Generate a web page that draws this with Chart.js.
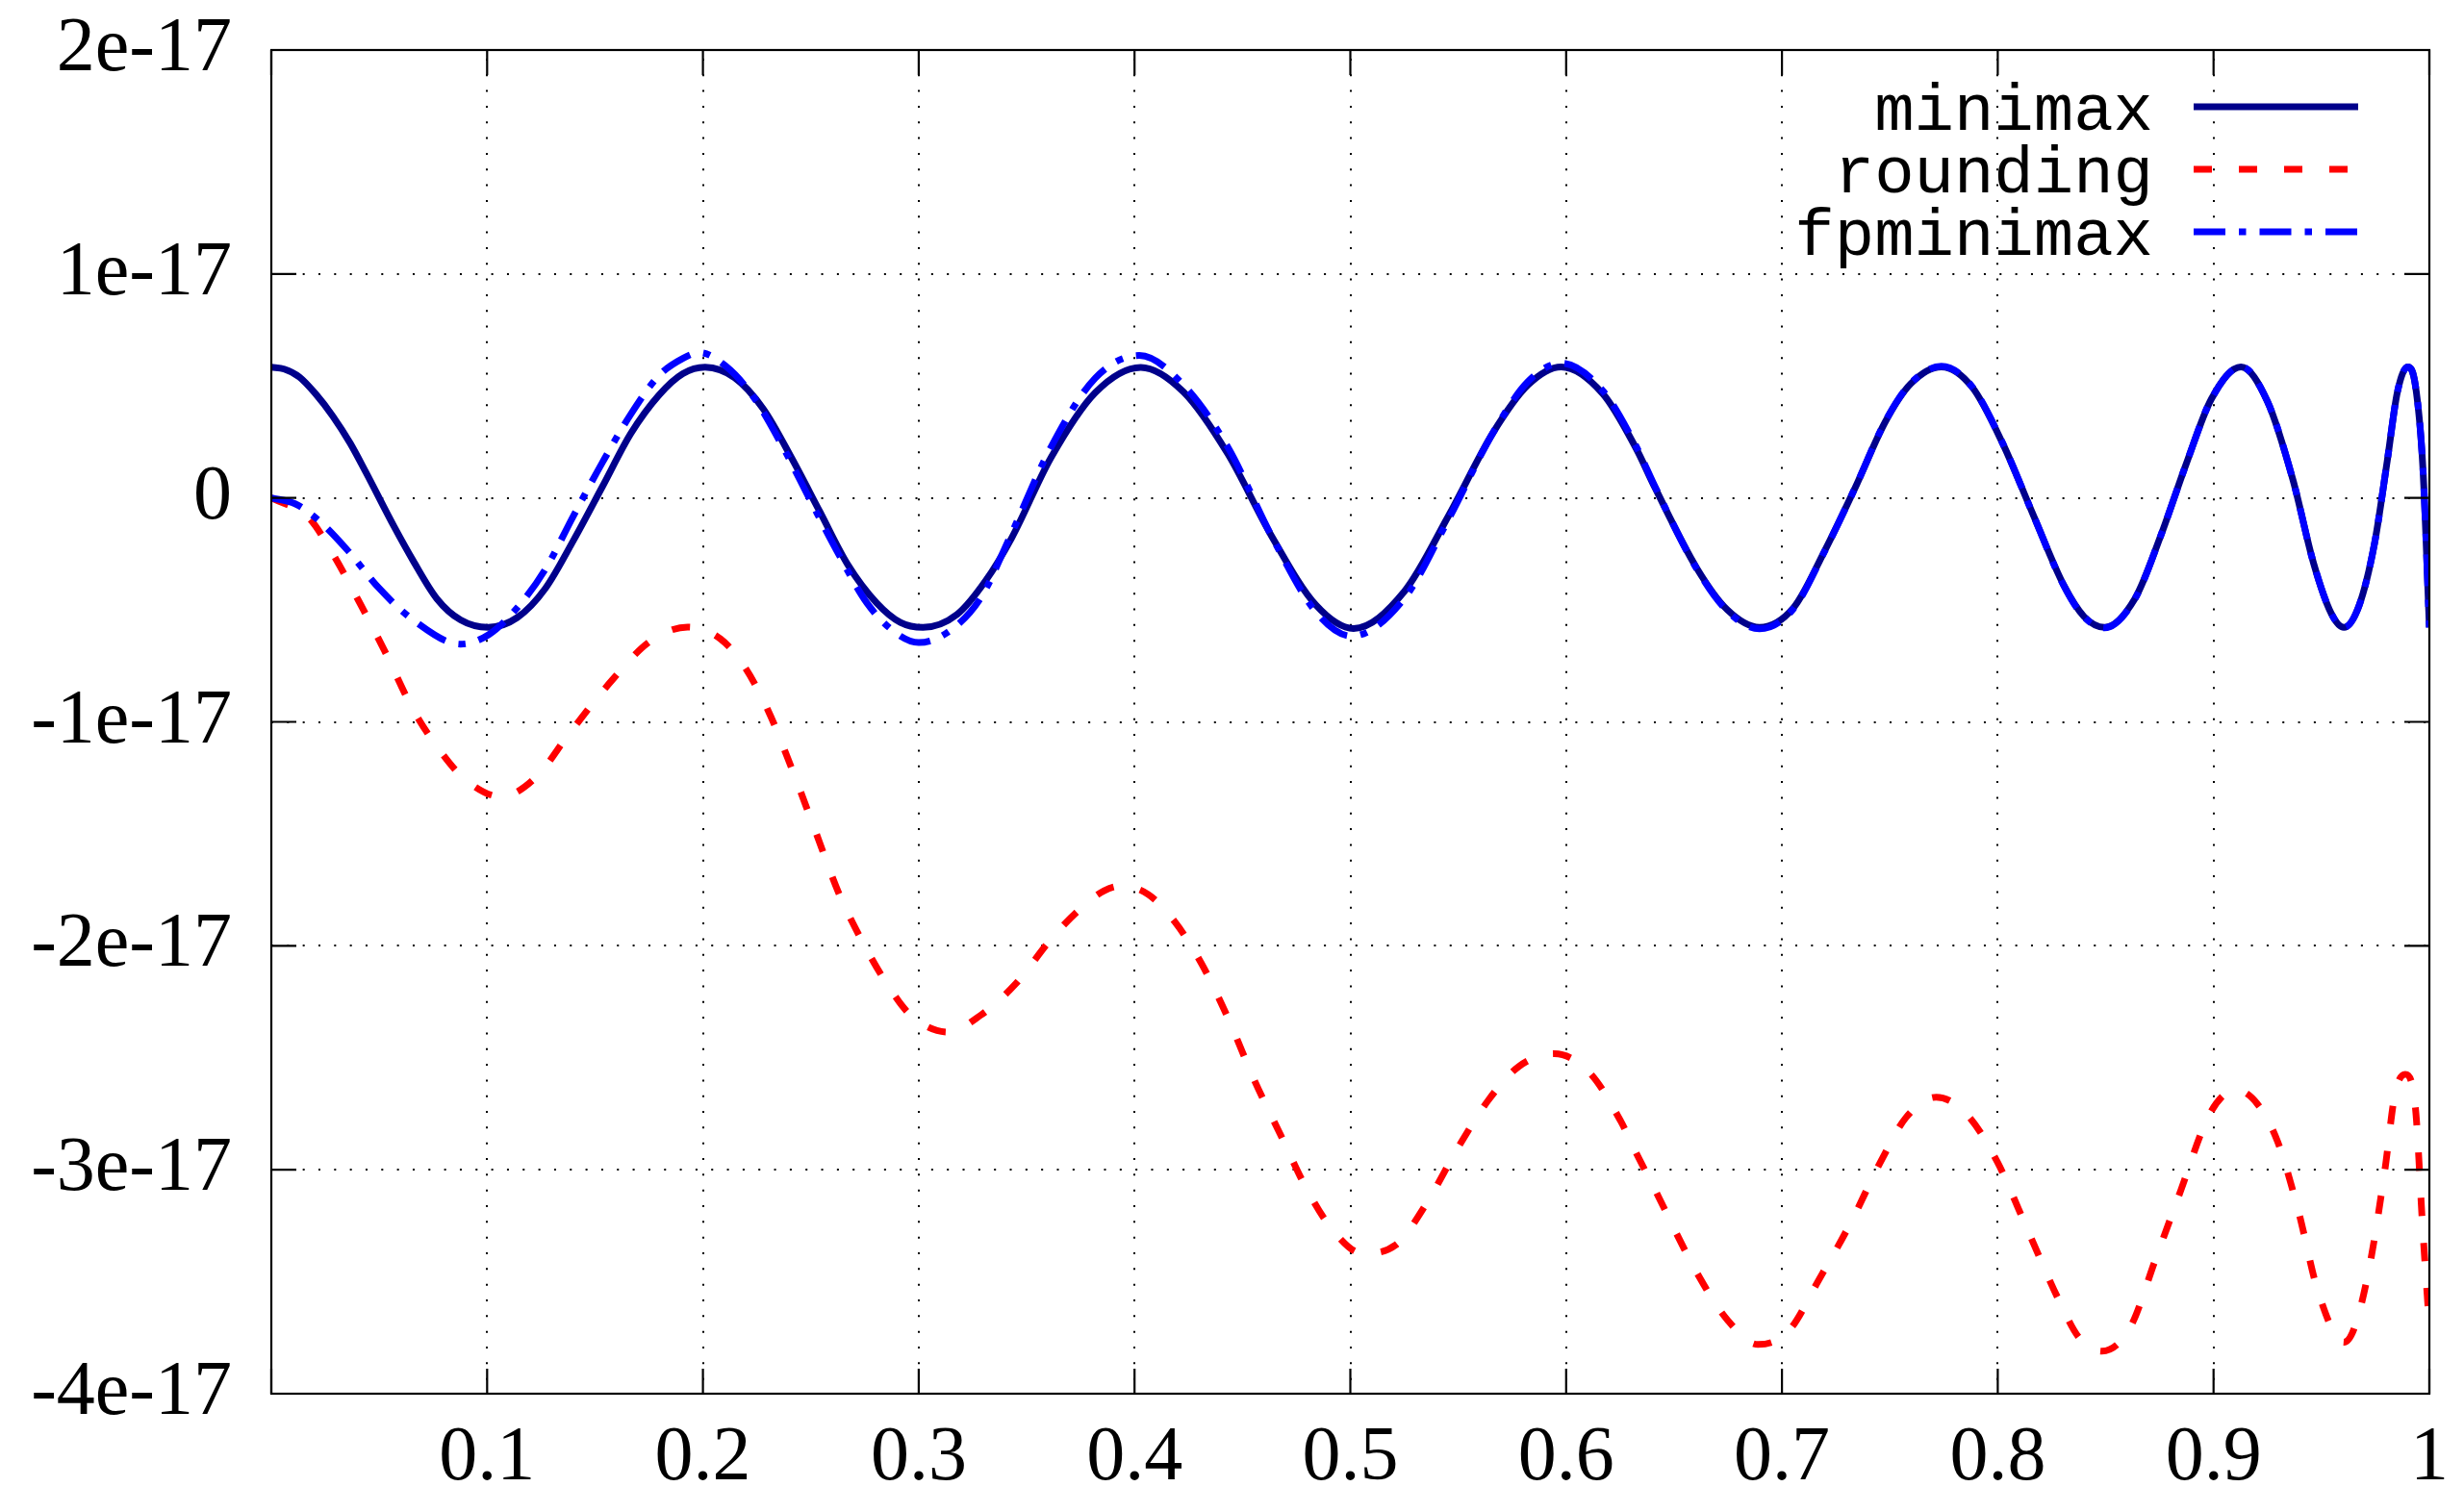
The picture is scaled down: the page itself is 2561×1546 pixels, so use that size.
<!DOCTYPE html>
<html><head><meta charset="utf-8">
<script src="https://cdn.jsdelivr.net/npm/chart.js@4/dist/chart.umd.min.js"></script>
<style>html,body{margin:0;padding:0;background:#fff;}canvas{display:block;}</style>
</head><body>
<canvas id="c" width="2561" height="1546"></canvas>
<script>
// ---- data (y values are in units of 1e-17) ----
const xTickValues = [0, 0.1, 0.2, 0.3, 0.4, 0.5, 0.6, 0.7, 0.8, 0.9, 1];
const xTickLabels = ['', '0.1', '0.2', '0.3', '0.4', '0.5', '0.6', '0.7', '0.8', '0.9', '1'];
const yTickValues = [-4, -3, -2, -1, 0, 1, 2];
const yTickLabels = ['-4e-17', '-3e-17', '-2e-17', '-1e-17', '0', '1e-17', '2e-17'];
const seriesNames = ['minimax', 'rounding', 'fpminimax'];

const minimaxX = [0.000, 0.006, 0.013, 0.0205, 0.0285, 0.0365, 0.0438, 0.057, 0.0657, 0.0767, 0.0877, 0.1005, 0.114, 0.127, 0.140, 0.1534, 0.1666, 0.1797, 0.1907, 0.2010, 0.2148, 0.228, 0.241, 0.254, 0.267, 0.2805, 0.2915, 0.3020, 0.3178, 0.331, 0.343, 0.3613, 0.3818, 0.4029, 0.4227, 0.4432, 0.4636, 0.4841, 0.5015, 0.525, 0.5455, 0.566, 0.5823, 0.5977, 0.617, 0.6322, 0.6412, 0.6606, 0.6747, 0.6896, 0.7054, 0.7196, 0.7338, 0.7479, 0.7597, 0.7739, 0.7881, 0.8022, 0.8164, 0.8306, 0.840, 0.8495, 0.8636, 0.8754, 0.8873, 0.899, 0.9127, 0.925, 0.9368, 0.9463, 0.9545, 0.9604, 0.9675, 0.9746, 0.9805, 0.9852, 0.990, 0.9935, 0.997, 1.000];
const minimaxY = [0.584, 0.575, 0.540, 0.465, 0.365, 0.245, 0.115, -0.13, -0.28, -0.45, -0.545, -0.578, -0.534, -0.404, -0.19, 0.05, 0.288, 0.46, 0.555, 0.584, 0.536, 0.397, 0.18, -0.058, -0.296, -0.469, -0.556, -0.578, -0.52, -0.37, -0.18, 0.18, 0.47, 0.583, 0.473, 0.197, -0.172, -0.479, -0.583, -0.418, -0.08, 0.289, 0.504, 0.585, 0.465, 0.225, 0.045, -0.315, -0.50, -0.578, -0.490, -0.240, 0.043, 0.34, 0.510, 0.585, 0.495, 0.245, -0.075, -0.39, -0.53, -0.578, -0.449, -0.172, 0.151, 0.442, 0.585, 0.430, 0.080, -0.290, -0.515, -0.578, -0.479, -0.203, 0.166, 0.473, 0.585, 0.504, 0.135, -0.578];

const roundingX = [0.000, 0.0175, 0.0285, 0.0405, 0.0526, 0.0657, 0.079, 0.0899, 0.1065, 0.1227, 0.138, 0.1578, 0.1753, 0.1929, 0.2082, 0.219, 0.230, 0.241, 0.252, 0.263, 0.274, 0.285, 0.296, 0.3134, 0.3287, 0.345, 0.3613, 0.3736, 0.3859, 0.394, 0.4063, 0.4186, 0.4309, 0.4432, 0.4555, 0.4677, 0.48, 0.4923, 0.5056, 0.521, 0.5352, 0.5496, 0.5639, 0.5782, 0.5946, 0.611, 0.6253, 0.6322, 0.6412, 0.6606, 0.6747, 0.6889, 0.7031, 0.7172, 0.7314, 0.7456, 0.7574, 0.7715, 0.7857, 0.7999, 0.8141, 0.8282, 0.8377, 0.8483, 0.8613, 0.8731, 0.8849, 0.8967, 0.9037, 0.9109, 0.9203, 0.9297, 0.9392, 0.9486, 0.9604, 0.9651, 0.9723, 0.9794, 0.9841, 0.9888, 0.9935, 0.997, 1.000];
const roundingY = [0.0, -0.09, -0.25, -0.46, -0.685, -0.945, -1.14, -1.258, -1.334, -1.247, -1.053, -0.815, -0.642, -0.577, -0.63, -0.75, -0.945, -1.204, -1.485, -1.766, -1.983, -2.166, -2.307, -2.385, -2.31, -2.169, -1.97, -1.846, -1.754, -1.733, -1.77, -1.892, -2.077, -2.32, -2.6, -2.845, -3.09, -3.275, -3.373, -3.336, -3.152, -2.906, -2.69, -2.538, -2.482, -2.568, -2.783, -2.92, -3.09, -3.46, -3.67, -3.78, -3.72, -3.49, -3.245, -2.967, -2.768, -2.676, -2.753, -2.967, -3.275, -3.58, -3.75, -3.81, -3.705, -3.40, -3.09, -2.78, -2.676, -2.645, -2.706, -2.875, -3.18, -3.55, -3.77, -3.71, -3.43, -3.0, -2.66, -2.574, -2.72, -3.275, -3.70];

const fpminimaxX = [0.000, 0.011, 0.0219, 0.035, 0.050, 0.0657, 0.0877, 0.1008, 0.114, 0.127, 0.140, 0.1534, 0.1666, 0.1797, 0.1907, 0.1983, 0.2104, 0.2235, 0.2367, 0.250, 0.263, 0.276, 0.289, 0.300, 0.3134, 0.3287, 0.342, 0.3613, 0.3818, 0.4022, 0.4227, 0.4432, 0.4636, 0.4841, 0.5005, 0.525, 0.5455, 0.566, 0.5823, 0.5977, 0.617, 0.6322, 0.6412, 0.6606, 0.6747, 0.6896, 0.7054, 0.7196, 0.7338, 0.7479, 0.7597, 0.7739, 0.7881, 0.8022, 0.8164, 0.8306, 0.840, 0.8495, 0.8636, 0.8754, 0.8873, 0.899, 0.9127, 0.925, 0.9368, 0.9463, 0.9545, 0.9604, 0.9675, 0.9746, 0.9805, 0.9852, 0.990, 0.9935, 0.997, 1.000];
const fpminimaxY = [0.0, -0.026, -0.10, -0.23, -0.404, -0.545, -0.653, -0.61, -0.49, -0.318, -0.08, 0.158, 0.374, 0.547, 0.623, 0.649, 0.59, 0.45, 0.234, -0.015, -0.253, -0.469, -0.60, -0.646, -0.60, -0.447, -0.18, 0.227, 0.535, 0.636, 0.504, 0.227, -0.172, -0.51, -0.617, -0.449, -0.095, 0.289, 0.519, 0.602, 0.478, 0.235, 0.050, -0.318, -0.505, -0.585, -0.494, -0.242, 0.043, 0.342, 0.512, 0.588, 0.497, 0.246, -0.075, -0.392, -0.532, -0.58, -0.45, -0.172, 0.151, 0.442, 0.586, 0.430, 0.080, -0.290, -0.515, -0.578, -0.479, -0.203, 0.166, 0.473, 0.585, 0.504, 0.135, -0.578];

const toPoints = (xs, ys) => xs.map((x, i) => ({ x: x, y: ys[i] }));

// ---- plot frame + inward mirrored ticks ----
const framePlugin = {
  id: 'frame',
  afterDatasetsDraw(chart) {
    const { ctx, chartArea: a, scales } = chart;
    ctx.save();
    ctx.strokeStyle = '#000';
    ctx.lineWidth = 2.2;
    ctx.setLineDash([]);
    ctx.beginPath();
    const T = 26;
    xTickValues.forEach(v => {
      const px = scales.x.getPixelForValue(v);
      ctx.moveTo(px, a.bottom); ctx.lineTo(px, a.bottom - T);
      ctx.moveTo(px, a.top); ctx.lineTo(px, a.top + T);
    });
    yTickValues.forEach(v => {
      const py = scales.y.getPixelForValue(v);
      ctx.moveTo(a.left, py); ctx.lineTo(a.left + T, py);
      ctx.moveTo(a.right, py); ctx.lineTo(a.right - T, py);
    });
    ctx.stroke();
    ctx.strokeRect(a.left, a.top, a.right - a.left, a.bottom - a.top);
    ctx.restore();
  }
};

// ---- key in the top-right corner: text right-aligned, sample to its right ----
const keyPlugin = {
  id: 'key',
  afterDraw(chart) {
    const { ctx, chartArea: a } = chart;
    const textRight = a.right - 287;
    const sx0 = a.right - 245, sx1 = a.right - 74;
    ctx.save();
    ctx.font = '69px "Liberation Mono", "DejaVu Sans Mono", monospace';
    ctx.textAlign = 'right';
    ctx.textBaseline = 'alphabetic';
    seriesNames.forEach((name, i) => {
      const ds = chart.data.datasets.find(d => d.label === name);
      const yLine = a.top + 59 + 65 * i;
      ctx.fillStyle = '#000';
      ctx.fillText(name, textRight, yLine + 24);
      ctx.strokeStyle = ds.borderColor;
      ctx.lineWidth = ds.borderWidth;
      ctx.lineCap = 'butt';
      ctx.setLineDash(ds.borderDash || []);
      ctx.beginPath();
      ctx.moveTo(sx0, yLine); ctx.lineTo(sx1, yLine);
      ctx.stroke();
    });
    ctx.restore();
  }
};

const tickFont = { family: '"Liberation Serif", "DejaVu Serif", serif', size: 80 };

new Chart(document.getElementById('c'), {
  type: 'line',
  data: {
    datasets: [
      { label: seriesNames[0], data: toPoints(minimaxX, minimaxY), borderColor: '#00008b', borderWidth: 7, borderDash: [], order: 1 },
      { label: seriesNames[1], data: toPoints(roundingX, roundingY), borderColor: '#ff0000', borderWidth: 7, borderDash: [19, 28], order: 2 },
      { label: seriesNames[2], data: toPoints(fpminimaxX, fpminimaxY), borderColor: '#0000ff', borderWidth: 7, borderDash: [33, 14, 7.5, 14], order: 0 }
    ]
  },
  options: {
    responsive: false,
    animation: false,
    devicePixelRatio: 1,
    events: [],
    layout: { padding: { left: 0, top: 52, right: 36, bottom: 0 } },
    elements: {
      point: { radius: 0 },
      line: { cubicInterpolationMode: 'monotone', fill: false, borderCapStyle: 'butt' }
    },
    plugins: { legend: { display: false }, tooltip: { enabled: false } },
    scales: {
      x: {
        type: 'linear', min: 0, max: 1,
        afterBuildTicks: s => { s.ticks = xTickValues.map(v => ({ value: v })); },
        afterFit: s => { s.height = 97; s.paddingLeft = 0; s.paddingRight = 0; },
        ticks: {
          autoSkip: false, maxRotation: 0, padding: 20, color: '#000', font: tickFont,
          callback: (v) => { const i = xTickValues.findIndex(t => Math.abs(t - v) < 1e-9); return i < 0 ? '' : xTickLabels[i]; }
        },
        grid: { color: '#000', lineWidth: 2, drawTicks: false, tickLength: 0 },
        border: { display: false, dash: [2, 14.33], dashOffset: 7.4 }
      },
      y: {
        type: 'linear', min: -4, max: 2,
        afterBuildTicks: s => { s.ticks = yTickValues.map(v => ({ value: v })); },
        afterFit: s => { s.width = 282; s.paddingTop = 0; s.paddingBottom = 0; },
        ticks: {
          autoSkip: false, padding: 41, color: '#000', font: tickFont,
          callback: (v) => { const i = yTickValues.findIndex(t => Math.abs(t - v) < 1e-9); return i < 0 ? '' : yTickLabels[i]; }
        },
        grid: { color: '#000', lineWidth: 2, drawTicks: false, tickLength: 0 },
        border: { display: false, dash: [2, 14.33] }
      }
    }
  },
  plugins: [framePlugin, keyPlugin]
});
</script>
</body></html>
